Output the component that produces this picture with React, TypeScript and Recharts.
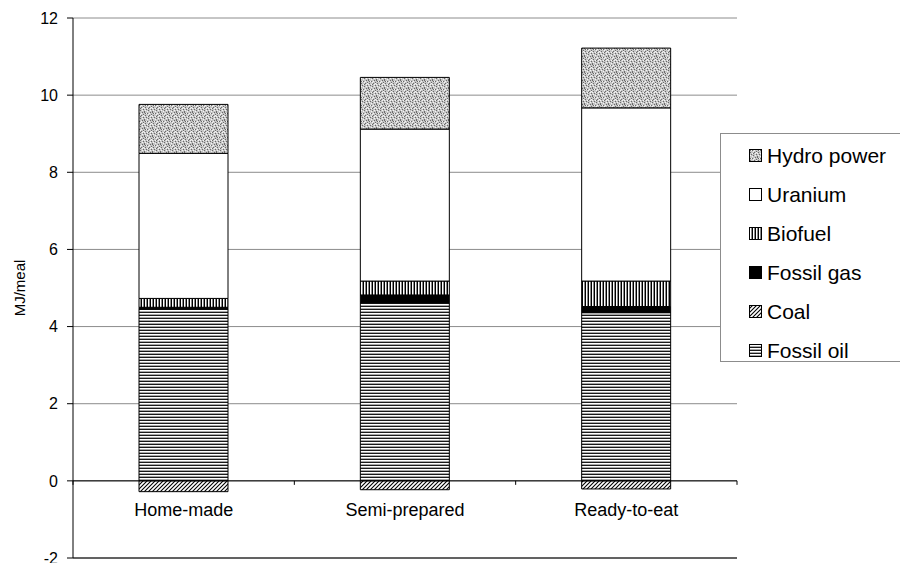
import React from "react"
import { Bar, BarChart, CartesianGrid, ReferenceLine, XAxis, YAxis } from "recharts"

// Energy use per meal, split by primary energy source
const categories = ["Home-made", "Semi-prepared", "Ready-to-eat"]
const fossilOil = [4.46, 4.62, 4.36]
const coal = [-0.28, -0.23, -0.21]
const fossilGas = [0.04, 0.2, 0.16]
const biofuel = [0.23, 0.36, 0.66]
const uranium = [3.76, 3.94, 4.49]
const hydroPower = [1.27, 1.34, 1.55]
const yTicks = [-2, 0, 2, 4, 6, 8, 10, 12]

// stacking order, bottom to top
const series = [
  { key: "fossilOil", name: "Fossil oil", values: fossilOil, fill: "url(#pat-oil)" },
  { key: "coal", name: "Coal", values: coal, fill: "url(#pat-coal)" },
  { key: "fossilGas", name: "Fossil gas", values: fossilGas, fill: "#000" },
  { key: "biofuel", name: "Biofuel", values: biofuel, fill: "url(#pat-bio)" },
  { key: "uranium", name: "Uranium", values: uranium, fill: "#fff" },
  { key: "hydroPower", name: "Hydro power", values: hydroPower, fill: "url(#pat-hydro)" },
]

const data = categories.map((name, i) => {
  const row: Record<string, string | number> = { name }
  series.forEach((s) => (row[s.key] = s.values[i]))
  return row
})

const WIDTH = 900
const HEIGHT = 563
const MARGIN = { top: 18, right: 163, bottom: 0, left: 0 }
const Y_AXIS_W = 73
const X_AXIS_H = 5
const Y_MIN = -2
const Y_MAX = 12
const PLOT_W = WIDTH - MARGIN.left - MARGIN.right - Y_AXIS_W
const PLOT_H = HEIGHT - MARGIN.top - MARGIN.bottom - X_AXIS_H
const ZERO_Y = MARGIN.top + (PLOT_H * Y_MAX) / (Y_MAX - Y_MIN)
const FONT = '"Liberation Sans", Arial, Helvetica, sans-serif'

// speckle tile for the hydro power fill
const darkDots = [[0, 0], [3, 1], [6, 0], [1, 3], [5, 3], [2, 5], [7, 5], [4, 6], [0, 7], [7, 2], [4, 4], [1, 1]]
const lightDots = [[2, 1], [5, 1], [0, 4], [3, 4], [7, 3], [6, 6], [1, 6], [4, 2], [3, 7], [6, 4]]

function Patterns() {
  return (
    <svg width={0} height={0} style={{ position: "absolute" }}>
      <defs>
        <pattern id="pat-oil" width={4} height={3} patternUnits="userSpaceOnUse">
          <rect width={4} height={3} fill="#fff" />
          <rect y={0} width={4} height={1} fill="#1a1a1a" />
          <rect y={2} width={4} height={1} fill="#a8a8a8" />
        </pattern>
        <pattern id="pat-bio" width={3} height={4} patternUnits="userSpaceOnUse">
          <rect width={3} height={4} fill="#fff" />
          <rect x={0} width={1} height={4} fill="#000" />
          <rect x={2} width={1} height={4} fill="#8a8a8a" />
        </pattern>
        <pattern id="pat-coal" width={4} height={4} patternUnits="userSpaceOnUse">
          <rect width={4} height={4} fill="#fff" />
          <path d="M-1,1 L1,-1 M0,4 L4,0 M3,5 L5,3" stroke="#000" strokeWidth={1.1} />
        </pattern>
        <pattern id="pat-hydro" width={8} height={8} patternUnits="userSpaceOnUse">
          <rect width={8} height={8} fill="#c6c6c6" />
          {darkDots.map(([x, y]) => (
            <rect key={`d${x}-${y}`} x={x} y={y} width={1} height={1} fill="#6a6a6a" />
          ))}
          {lightDots.map(([x, y]) => (
            <rect key={`l${x}-${y}`} x={x} y={y} width={1} height={1} fill="#f4f4f4" />
          ))}
        </pattern>
      </defs>
    </svg>
  )
}

function CategoryTick(props: any) {
  const { x, payload, index } = props
  const half = PLOT_W / categories.length / 2
  return (
    <g>
      {index === 0 && <line x1={x - half} x2={x - half} y1={ZERO_Y} y2={ZERO_Y + 4} stroke="#000" />}
      <line x1={x + half} x2={x + half} y1={ZERO_Y} y2={ZERO_Y + 4} stroke="#000" />
      <text x={x} y={ZERO_Y + 35} textAnchor="middle" fontSize={18} fill="#000">
        {payload.value}
      </text>
    </g>
  )
}

function EnergyLegend() {
  const items = [...series].reverse()
  return (
    <div
      style={{
        position: "absolute",
        left: 720,
        top: 133,
        width: 190,
        height: 229,
        border: "1px solid #8c8c8c",
        background: "#fff",
        boxSizing: "border-box",
      }}
    >
      {items.map((s, i) => (
        <div
          key={s.key}
          style={{ position: "absolute", left: 28, top: 4 + i * 39, height: 36, display: "flex", alignItems: "center" }}
        >
          <svg width={14} height={14} style={{ marginRight: 4 }}>
            <rect x={0.5} y={0.5} width={12} height={12} fill={s.fill} stroke="#000" />
          </svg>
          <span style={{ fontSize: 21, color: "#000", whiteSpace: "nowrap" }}>{s.name}</span>
        </div>
      ))}
    </div>
  )
}

export default function App() {
  return (
    <div
      style={{
        position: "absolute",
        left: 0,
        top: 0,
        width: WIDTH,
        height: HEIGHT,
        overflow: "hidden",
        background: "#fff",
        fontFamily: FONT,
      }}
    >
      <Patterns />
      <BarChart width={WIDTH} height={HEIGHT} data={data} margin={MARGIN} stackOffset="sign" barSize={89}>
        <CartesianGrid vertical={false} stroke="#8c8c8c" />
        <XAxis
          dataKey="name"
          height={X_AXIS_H}
          axisLine={false}
          tickLine={false}
          interval={0}
          tick={(p: any) => <CategoryTick {...p} />}
        />
        <YAxis
          width={Y_AXIS_W}
          domain={[Y_MIN, Y_MAX]}
          ticks={yTicks}
          interval={0}
          axisLine={{ stroke: "#000" }}
          tickLine={{ stroke: "#000" }}
          tickSize={6}
          tickMargin={9}
          tick={{ fontSize: 16, fill: "#000" }}
          label={{
            value: "MJ/meal",
            angle: -90,
            position: "insideLeft",
            offset: 20,
            style: { textAnchor: "middle", fontSize: 15, fill: "#000" },
          }}
        />
        {series.map((s) => (
          <Bar
            key={s.key}
            dataKey={s.key}
            name={s.name}
            stackId="energy"
            fill={s.fill}
            stroke="#000"
            strokeWidth={1}
            isAnimationActive={false}
          />
        ))}
        <ReferenceLine y={0} stroke="#000" />
        <ReferenceLine y={-2} stroke="#000" />
      </BarChart>
      <EnergyLegend />
    </div>
  )
}
